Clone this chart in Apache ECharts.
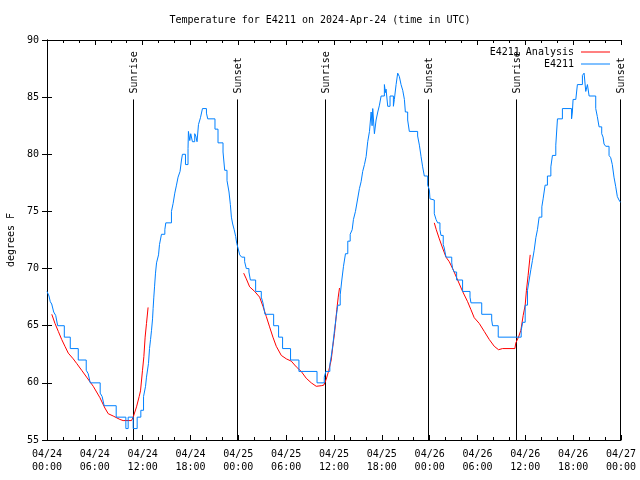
<!DOCTYPE html>
<html>
<head>
<meta charset="utf-8">
<script src="https://cdn.jsdelivr.net/npm/echarts@6/dist/echarts.min.js"></script>
<style>html,body{margin:0;padding:0;background:#fff}#c{width:640px;height:480px}</style>
</head>
<body>
<div id="c"></div>
<script>
// hours since 04/24 00:00 UTC
var tickLabels = ['04/24\n00:00','04/24\n06:00','04/24\n12:00','04/24\n18:00','04/25\n00:00','04/25\n06:00','04/25\n12:00','04/25\n18:00','04/26\n00:00','04/26\n06:00','04/26\n12:00','04/26\n18:00','04/27\n00:00'];
var sunTimes = [10.83, 23.87, 34.83, 47.85, 58.85, 71.88];
var sunLabels = ['Sunrise','Sunset','Sunrise','Sunset','Sunrise','Sunset'];

var observed = [
[0.00,68.0],[0.25,67.6],[0.41,67.1],[0.59,66.9],[0.84,66.2],[1.09,65.9],[1.34,65.0],[2.17,64.0],[2.92,63.0],[3.92,62.0],
[4.92,61.1],[5.17,60.8],[5.42,60.0],[6.67,59.1],[6.92,58.8],[7.17,58.0],[8.68,57.0],[9.89,56.0],[10.18,57.0],[10.81,56.0],
[11.31,57.0],[11.77,57.6],[12.11,58.8],[12.36,59.7],[12.48,60.5],[12.73,61.7],[12.86,63.0],[12.99,63.8],[13.11,64.6],[13.24,65.6],
[13.31,66.5],[13.40,67.5],[13.49,68.4],[13.61,69.6],[13.74,70.5],[13.99,71.2],[14.11,72.1],[14.36,73.0],[14.78,73.4],[14.90,74.0],
[15.61,75.0],[15.82,75.7],[16.03,76.6],[16.24,77.3],[16.44,78.0],[16.69,78.5],[16.87,79.5],[16.99,80.0],[17.37,79.1],[17.69,80.5],
[17.74,82.0],[17.91,81.2],[18.03,81.8],[18.24,81.1],[18.53,81.8],[18.66,81.6],[18.82,81.1],[19.00,82.6],[19.25,83.2],[19.50,84.0],
[20.00,83.6],[20.16,83.1],[21.07,82.2],[21.45,81.0],[22.08,80.2],[22.29,78.6],[22.58,77.7],[22.83,76.7],[23.00,75.6],[23.13,74.5],
[23.29,73.9],[23.48,73.4],[23.67,72.8],[23.80,72.2],[23.96,71.8],[24.17,71.2],[24.42,71.0],[24.79,70.6],[25.00,70.0],[25.33,69.7],
[25.51,69.0],[26.17,68.0],[26.88,67.5],[27.09,67.0],[27.34,66.0],[28.43,65.0],[29.05,64.0],[29.55,63.0],[30.55,62.0],[31.60,61.0],
[33.87,60.0],[34.78,60.5],[34.98,61.0],[35.48,61.6],[35.65,62.3],[35.85,63.3],[36.06,64.6],[36.28,65.8],[36.48,66.8],[36.78,67.7],
[36.98,69.0],[37.19,70.2],[37.44,71.3],[37.73,72.4],[38.03,73.0],[38.28,73.4],[38.44,74.3],[38.69,75.0],[38.94,76.0],[39.19,77.0],
[39.40,77.6],[39.60,78.5],[39.82,79.1],[40.03,79.8],[40.23,81.1],[40.45,82.0],[40.66,83.7],[40.78,82.5],[40.86,84.0],[41.07,81.8],
[41.28,83.0],[41.49,83.7],[41.70,84.3],[41.91,85.1],[42.32,86.1],[42.45,85.4],[42.53,85.7],[42.74,84.2],[43.03,85.1],[43.45,84.2],
[43.57,84.8],[43.79,86.1],[43.99,87.1],[44.20,86.8],[44.41,86.1],[44.62,85.6],[44.83,84.8],[44.95,83.7],[45.24,83.0],[45.45,82.0],
[46.49,81.6],[46.71,80.8],[46.92,79.8],[47.12,78.9],[47.33,78.1],[47.75,77.3],[47.96,76.9],[48.04,76.1],[48.29,76.0],[48.58,74.8],
[48.80,74.3],[49.00,74.0],[49.29,73.4],[49.42,72.9],[49.70,72.1],[49.83,71.8],[50.05,71.0],[50.77,70.5],[50.88,70.0],[51.09,69.7],
[51.38,69.0],[52.13,68.0],[53.06,67.5],[53.18,67.0],[54.53,66.0],[55.78,65.5],[55.89,65.0],[56.60,64.0],[59.48,64.6],[59.67,65.3],
[59.98,66.8],[60.27,68.1],[60.48,69.0],[60.69,69.9],[60.89,70.7],[61.11,71.6],[61.32,72.7],[61.52,73.4],[61.73,74.5],[62.07,75.4],
[62.23,76.1],[62.48,77.3],[62.77,78.1],[63.20,78.9],[63.40,79.9],[63.82,80.8],[64.03,83.1],[64.65,84.0],[65.80,83.1],[65.90,83.7],
[65.99,84.8],[66.33,84.9],[66.53,86.1],[67.16,86.9],[67.37,87.1],[67.58,85.5],[67.79,86.1],[68.00,85.1],[68.83,84.0],[69.03,83.3],
[69.25,82.4],[69.58,81.8],[69.75,81.5],[69.87,80.9],[70.08,80.7],[70.50,79.9],[70.71,79.7],[70.91,79.1],[71.12,78.0],[71.33,77.2],
[71.54,76.3],[71.75,76.0],[71.93,75.8]
];

var analysisNight1 = [
[0.60,66.0],[1.00,65.2],[1.42,64.5],[1.84,63.8],[2.25,63.2],[2.67,62.6],[3.29,62.1],[3.72,61.7],[4.35,61.1],[4.97,60.5],
[5.80,59.7],[6.64,58.7],[7.26,57.8],[7.68,57.3],[8.30,57.1],[9.14,56.8],[9.55,56.7],[10.60,56.7],[10.81,57.0],[11.23,57.9],
[11.56,58.8],[11.73,59.3],[11.98,61.1],[12.15,62.3],[12.31,64.0],[12.48,65.2],[12.68,66.6]
];
var analysisNight2 = [
[24.67,69.6],[25.00,69.1],[25.42,68.4],[26.05,68.0],[26.67,67.5],[27.09,66.7],[27.51,65.8],[27.92,64.9],[28.34,64.0],[28.76,63.2],
[29.39,62.4],[30.02,62.1],[30.64,61.9],[31.27,61.4],[31.89,61.0],[32.52,60.4],[33.15,60.0],[33.77,59.7],[34.40,59.75],[34.72,59.8],
[35.02,60.3],[35.35,61.1],[35.65,62.0],[35.85,63.2],[36.06,64.3],[36.19,65.2],[36.35,66.4],[36.53,67.5],[36.69,68.3]
];
var analysisNight3 = [
[48.58,74.0],[48.83,73.4],[49.21,72.6],[49.62,71.8],[50.05,71.0],[50.46,70.6],[50.88,70.0],[51.51,69.0],[52.13,68.0],[52.76,67.1],
[53.18,66.4],[53.59,65.7],[54.22,65.2],[54.85,64.5],[55.47,63.8],[56.10,63.2],[56.64,62.9],[57.14,63.0],[58.69,63.0],[58.81,63.5],
[59.14,64.0],[59.44,64.6],[59.73,65.9],[59.98,66.8],[60.14,68.1],[60.35,69.4],[60.61,71.2]
];

var analysis = analysisNight1.concat([[12.7,'-']], analysisNight2, [[36.7,'-']], analysisNight3);
var sunData = sunTimes.map(function (t, i) { return [t, i]; });

var FONT = 'DejaVu Sans Mono';
var chart = echarts.init(document.getElementById('c'), null, {renderer: 'canvas'});
var axisCommon = {
  type: 'value', min: 0, max: 72, interval: 6,
  axisLine: {show: true, lineStyle: {color: '#000', width: 1}},
  axisTick: {show: true, inside: true, length: 5, lineStyle: {color: '#000'}},
  minorTick: {show: true, splitNumber: 3, length: 3, lineStyle: {color: '#000'}},
  splitLine: {show: false}
};
chart.setOption({
  animation: false,
  backgroundColor: '#fff',
  title: {
    text: 'Temperature for E4211 on 2024-Apr-24 (time in UTC)',
    left: 'center', top: 10,
    textStyle: {fontFamily: FONT, fontSize: 10, fontWeight: 'normal', color: '#000'}
  },
  legend: {
    orient: 'vertical', right: 25, top: 41, align: 'right',
    itemWidth: 29, itemHeight: 1, itemGap: 0,
    icon: 'rect',
    textStyle: {fontFamily: FONT, fontSize: 10, color: '#000', lineHeight: 12, padding: [0, 2, 0, 0]},
    data: ['E4211 Analysis', 'E4211']
  },
  grid: {left: 47, right: 19, top: 40, bottom: 40, containLabel: false, outerBoundsMode: 'none'},
  xAxis: [
    Object.assign({}, axisCommon, {
      position: 'bottom',
      axisLabel: {
        fontFamily: FONT, fontSize: 10, color: '#000', margin: 8, lineHeight: 13,
        formatter: function (v) { return tickLabels[Math.round(v / 6)]; }
      }
    }),
    Object.assign({}, axisCommon, {position: 'top', axisLabel: {show: false}})
  ],
  yAxis: [
    {
      type: 'value', min: 55, max: 90, interval: 5, position: 'left',
      name: 'degrees F', nameLocation: 'middle', nameRotate: 90, nameGap: 29,
      nameTextStyle: {fontFamily: FONT, fontSize: 10, color: '#000'},
      axisLine: {show: true, lineStyle: {color: '#000'}},
      axisTick: {show: true, inside: true, length: 5, lineStyle: {color: '#000'}},
      axisLabel: {fontFamily: FONT, fontSize: 10, color: '#000', margin: 8},
      splitLine: {show: false}
    },
    {
      type: 'value', min: 55, max: 90, interval: 5, position: 'right',
      axisLine: {show: true, lineStyle: {color: '#000'}},
      axisTick: {show: true, inside: true, length: 5, lineStyle: {color: '#000'}},
      axisLabel: {show: false},
      splitLine: {show: false}
    }
  ],
  series: [
    {
      type: 'custom', name: 'sun', xAxisIndex: 0, yAxisIndex: 0, clip: false, silent: true,
      data: sunData, z: 1,
      renderItem: function (params, api) {
        var t = api.value(0);
        var b = api.coord([t, 55]);
        var top = api.coord([t, 84.8]);
        var x = Math.round(b[0]) + 0.5;
        return {
          type: 'group',
          children: [
            {type: 'line', shape: {x1: x, y1: b[1], x2: x, y2: top[1]}, style: {stroke: '#000', lineWidth: 1}},
            {type: 'text', x: x + 1, y: top[1] - 6, rotation: Math.PI / 2,
             style: {text: sunLabels[params.dataIndex], fill: '#000', font: '10px ' + FONT, textAlign: 'left', textVerticalAlign: 'middle'}}
          ]
        };
      }
    },
    {
      type: 'line', name: 'E4211 Analysis', data: analysis, showSymbol: false, connectNulls: false,
      lineStyle: {color: '#ff0000', width: 1}, itemStyle: {color: '#ff0000'}, z: 2
    },
    {
      type: 'line', name: 'E4211', data: observed, step: 'end', showSymbol: false,
      lineStyle: {color: '#0080ff', width: 1}, itemStyle: {color: '#0080ff'}, z: 3
    }
  ]
});
</script>
</body>
</html>
